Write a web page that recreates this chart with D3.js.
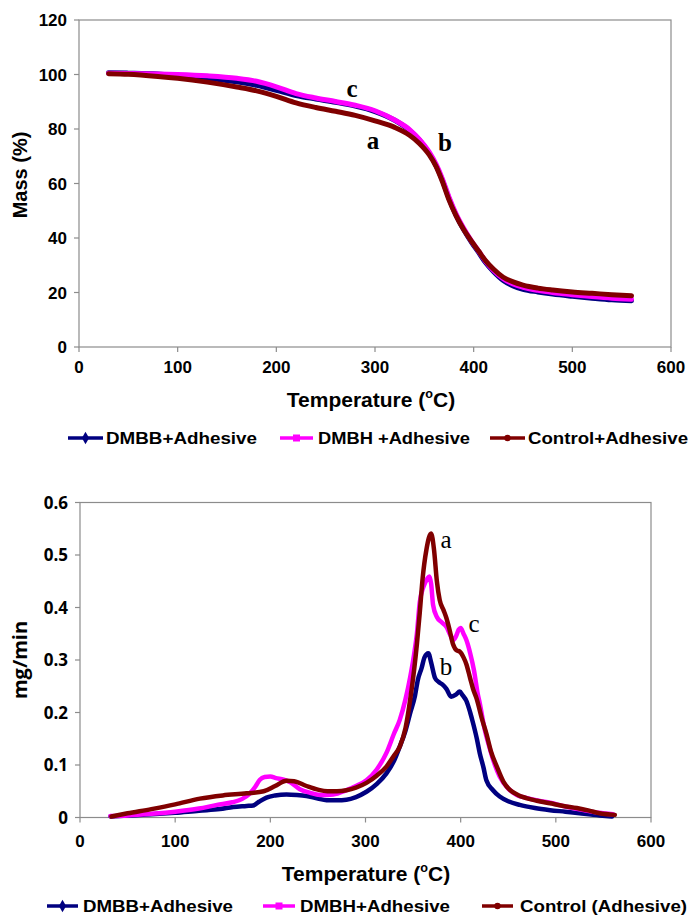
<!DOCTYPE html>
<html><head><meta charset="utf-8">
<script src="https://cdn.jsdelivr.net/npm/d3@7"></script>
<style>body{margin:0;background:#fff}svg{display:block}</style>
</head><body>
<script>
// ---------- Top chart (TGA) data ----------
const tgaTemp = [30,50,80,100,130,160,180,200,220,240,260,280,300,320,335,345,355,362,368,375,382,390,398,405,412,420,430,440,450,465,480,500,520,540,560];
const tgaDMBB = [100.6,100.5,100.2,99.6,98.6,97.3,96,94.2,92.3,91,89.8,88.4,86.4,83.2,79.5,76,71,66.5,61.5,54.5,48.5,43,38.3,34.7,31,27.7,24.4,22.4,21.2,20.2,19.4,18.6,17.9,17.3,17.0];
const tgaDMBH = [100.5,100.4,100.2,100,99.5,98.6,97.5,95.5,93,91.4,90.1,88.7,86.7,83.3,79.8,76.2,71.5,67,62,55,49,43.5,38.8,35.2,31.5,28.2,25.1,23.1,21.9,20.8,20,19.2,18.5,17.9,17.5];
const tgaCtrl = [100.3,100.1,99.3,98.6,97.2,95.4,94,92,89.6,87.9,86.5,85,83,80.6,77.7,74.7,70.5,66.2,61,54,48.3,43,38.7,35.2,31.7,28.6,25.6,23.9,22.7,21.6,20.9,20.2,19.7,19.2,18.8];
const tgaXTicks = [0,100,200,300,400,500,600];
const tgaYTicks = [0,20,40,60,80,100,120];
const tgaLegend = ["DMBB+Adhesive","DMBH +Adhesive","Control+Adhesive"];

// ---------- Bottom chart (DTG) data ----------
const dtgBlueT = [32,50,75,100,125,147,161,175,182,188,196,205,217,228,238,250,259,270,280,290,301,312,322,330,336,342,347,352,355,359,362,366,369,373,377,381,385,390,395,399,402,406,410,413,417,420,424,427,434,441,450,462,478,494,510,525,546,559];
const dtgBlueV = [0.002,0.004,0.006,0.009,0.013,0.016,0.02,0.022,0.023,0.03,0.038,0.042,0.044,0.043,0.041,0.036,0.033,0.033,0.034,0.039,0.049,0.064,0.084,0.108,0.135,0.165,0.199,0.232,0.262,0.285,0.305,0.313,0.295,0.266,0.258,0.253,0.245,0.23,0.234,0.24,0.233,0.222,0.2,0.18,0.15,0.123,0.095,0.071,0.052,0.04,0.031,0.024,0.018,0.014,0.011,0.008,0.004,0.002];
const dtgPinkT = [32,50,75,100,125,144,160,170,178,184,189,194,200,206,214,221,231,242,252,266,280,290,301,312,322,330,336,342,347,351,354,357,361,365,367,369,371,375,380,385,389,392,395,398,400,403,406,410,414,418,420,425,431,436,441,450,459,470,482,494,510,529,545,560];
const dtgPinkV = [0.003,0.004,0.007,0.011,0.017,0.024,0.029,0.035,0.045,0.058,0.072,0.077,0.078,0.075,0.072,0.067,0.054,0.047,0.043,0.044,0.052,0.06,0.071,0.092,0.123,0.16,0.186,0.225,0.268,0.31,0.35,0.41,0.44,0.455,0.459,0.445,0.405,0.382,0.372,0.363,0.348,0.338,0.345,0.358,0.361,0.35,0.338,0.313,0.28,0.235,0.218,0.17,0.129,0.1,0.078,0.055,0.043,0.037,0.032,0.028,0.021,0.014,0.009,0.006];
const dtgCtrlT = [33,50,75,100,126,150,175,193,205,217,225,238,250,260,270,280,290,301,312,322,330,336,342,347,351,354,357,360,364,369,372,375,378,382,385,388,392,396,399,403,406,410,413,417,422,427,432,438,445,452,460,469,480,494,508,522,535,546,562];
const dtgCtrlV = [0.002,0.008,0.016,0.025,0.036,0.042,0.046,0.05,0.06,0.07,0.069,0.06,0.053,0.05,0.05,0.052,0.057,0.066,0.08,0.097,0.118,0.135,0.17,0.225,0.28,0.33,0.39,0.455,0.51,0.541,0.51,0.45,0.414,0.395,0.38,0.36,0.33,0.318,0.316,0.305,0.292,0.265,0.245,0.225,0.19,0.16,0.125,0.097,0.068,0.052,0.043,0.037,0.032,0.027,0.022,0.018,0.013,0.008,0.005];
const dtgXTicks = [0,100,200,300,400,500,600];
const dtgYTicks = [0,0.1,0.2,0.3,0.4,0.5,0.6];
const dtgLegend = ["DMBB+Adhesive","DMBH+Adhesive","Control (Adhesive)"];

const colors = ["#000080","#ff00ff","#800000"];
const AX = "#8c8c8c";
const SANS = "'Liberation Sans', Arial, sans-serif";
const SERIF = "'Liberation Serif', 'Times New Roman', serif";

const svg = d3.select("body").append("svg").attr("width",690).attr("height",917);

function drawAxes(g, x, y, xt, yt, yfmt, yfont, xLabelY, yLabelX){
  const [x0,x1] = x.range(), [y0,y1] = y.range();
  g.append("rect").attr("x",x0).attr("y",y1).attr("width",x1-x0).attr("height",y0-y1)
    .attr("fill","none").attr("stroke",AX).attr("stroke-width",1.2);
  xt.forEach(t=>{
    g.append("line").attr("x1",x(t)).attr("x2",x(t)).attr("y1",y0).attr("y2",y0+5).attr("stroke",AX).attr("stroke-width",1.2);
    g.append("text").attr("x",x(t)).attr("y",xLabelY).attr("text-anchor","middle")
      .attr("font-family",SANS).attr("font-weight","bold").attr("font-size",17).text(t);
  });
  yt.forEach(t=>{
    g.append("line").attr("x1",x0-5).attr("x2",x0).attr("y1",y(t)).attr("y2",y(t)).attr("stroke",AX).attr("stroke-width",1.2);
    g.append("text").attr("x",yLabelX).attr("y",y(t)).attr("dy","0.36em").attr("text-anchor","end")
      .attr("font-family",yfont).attr("font-weight","bold").attr("font-size",17).text(yfmt(t));
  });
}

function xTitle(g, cx, by, size){
  const t = g.append("text").attr("x",cx).attr("y",by).attr("text-anchor","middle")
    .attr("font-family",SANS).attr("font-weight","bold").attr("font-size",size);
  t.append("tspan").text("Temperature (");
  t.append("tspan").attr("font-size",size*0.6).attr("dy",-size*0.45).text("o");
  t.append("tspan").attr("dy",size*0.45).text("C)");
}

function legend(g, items, y){
  items.forEach((it,i)=>{
    g.append("line").attr("x1",it.l0).attr("x2",it.l1).attr("y1",y).attr("y2",y)
      .attr("stroke",colors[i]).attr("stroke-width",3.5);
    const cx=(it.l0+it.l1)/2;
    if(i===0) g.append("path").attr("d",d3.symbol(d3.symbolDiamond,45)()).attr("transform",`translate(${cx},${y})`).attr("fill",colors[i]);
    if(i===1) g.append("rect").attr("x",cx-3.5).attr("y",y-3.5).attr("width",7).attr("height",7).attr("fill",colors[i]);
    if(i===2) g.append("circle").attr("cx",cx).attr("cy",y).attr("r",3.2).attr("fill",colors[i]);
    g.append("text").attr("x",it.t0).attr("y",y+6).attr("font-family",SANS).attr("font-weight","bold")
      .attr("font-size",16).attr("textLength",it.w).attr("lengthAdjust","spacingAndGlyphs").text(it.label);
  });
}

// ---------- Top chart ----------
{
  const g = svg.append("g");
  const x = d3.scaleLinear().domain([0,600]).range([79,671]);
  const y = d3.scaleLinear().domain([0,120]).range([347,20]);
  drawAxes(g,x,y,tgaXTicks,tgaYTicks,d=>d,SANS,373,67);
  const series = [tgaDMBB,tgaDMBH,tgaCtrl];
  const line = d3.line().x(d=>x(d[0])).y(d=>y(d[1])).curve(d3.curveMonotoneX);
  series.forEach((s,i)=>{
    g.append("path").datum(tgaTemp.map((t,j)=>[t,s[j]])).attr("d",line)
      .attr("fill","none").attr("stroke",colors[i]).attr("stroke-width",5).attr("stroke-linejoin","round").attr("stroke-linecap","round");
  });
  [["c",352,97],["a",373,149],["b",445,151]].forEach(a=>{
    g.append("text").attr("x",a[1]).attr("y",a[2]).attr("text-anchor","middle").attr("font-family",SERIF)
      .attr("font-weight","bold").attr("font-size",25).text(a[0]);
  });
  g.append("text").attr("transform","translate(27,175) rotate(-90)").attr("text-anchor","middle")
    .attr("font-family",SANS).attr("font-weight","bold").attr("font-size",20).text("Mass (%)");
  xTitle(g,371,407,21);
  legend(g,[
    {l0:68,l1:103,t0:106,w:151,label:tgaLegend[0]},
    {l0:280,l1:313,t0:318,w:152,label:tgaLegend[1]},
    {l0:490,l1:525,t0:528,w:160,label:tgaLegend[2]}],438);
}

// ---------- Bottom chart ----------
{
  const g = svg.append("g");
  const x = d3.scaleLinear().domain([0,600]).range([80,651]);
  const y = d3.scaleLinear().domain([0,0.6]).range([817.5,502.5]);
  drawAxes(g,x,y,dtgXTicks,dtgYTicks,d=>d===0?"0":d3.format(".1f")(d),"'Open Sans', sans-serif",847,68);
  const series = [[dtgBlueT,dtgBlueV],[dtgPinkT,dtgPinkV],[dtgCtrlT,dtgCtrlV]];
  const line = d3.line().x(d=>x(d[0])).y(d=>y(d[1])).curve(d3.curveMonotoneX);
  series.forEach((s,i)=>{
    g.append("path").datum(s[0].map((t,j)=>[t,s[1][j]])).attr("d",line)
      .attr("fill","none").attr("stroke",colors[i]).attr("stroke-width",4.5).attr("stroke-linejoin","round").attr("stroke-linecap","round");
  });
  [["a",446,548],["c",474,632],["b",446,675]].forEach(a=>{
    g.append("text").attr("x",a[1]).attr("y",a[2]).attr("text-anchor","middle").attr("font-family",SERIF)
      .attr("font-size",25).text(a[0]);
  });
  g.append("text").attr("transform","translate(27,660) rotate(-90)").attr("text-anchor","middle")
    .attr("font-family","'Open Sans', sans-serif").attr("font-weight","bold").attr("font-size",20).text("mg/min");
  xTitle(g,366,881,21);
  legend(g,[
    {l0:47,l1:78,t0:83,w:150,label:dtgLegend[0]},
    {l0:263,l1:295,t0:300,w:150,label:dtgLegend[1]},
    {l0:482,l1:513,t0:520,w:167,label:dtgLegend[2]}],906);
}
</script>
</body></html>
